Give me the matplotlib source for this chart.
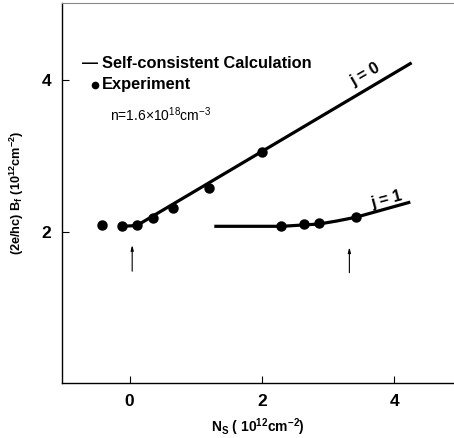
import matplotlib
matplotlib.use('Agg')
import matplotlib.pyplot as plt
import numpy as np

plt.rcParams.update({
    "font.family": 'Liberation Sans',
    "mathtext.fontset": 'custom',
    "mathtext.rm": 'Liberation Sans',
    "mathtext.bf": 'Liberation Sans:bold',
    "mathtext.default": 'regular',
    "axes.linewidth": 1.0,
    "xtick.direction": 'in',
    "ytick.direction": 'in',
})

# experimental points, j = 0 branch
exp0_ns = [-0.42, -0.12, 0.11, 0.36, 0.65, 1.20, 2.00]
exp0_bf = [2.09, 2.07, 2.09, 2.18, 2.31, 2.57, 3.05]
# experimental points, j = 1 branch
exp1_ns = [2.29, 2.64, 2.86, 3.42]
exp1_bf = [2.08, 2.10, 2.11, 2.19]

# self-consistent calculation
calc0_ns = [-0.12, 0.11, 4.26]
calc0_bf = [2.07, 2.08, 4.23]
calc1_ns = [1.28, 2.30, 2.86, 3.13, 3.42, 4.24]
calc1_bf = [2.07, 2.07, 2.10, 2.14, 2.19, 2.39]

# arrows marking the subband onsets
onset_ns = [0.04, 3.32]
onset_lo = [1.44, 1.42]
onset_hi = [1.86, 1.83]

fig = plt.figure(figsize=(4.54, 4.38), dpi=100)
ax = fig.add_axes([62 / 454, 55 / 438, 392 / 454, 380 / 438])

ax.plot(calc0_ns, calc0_bf, color='black', lw=2.3, solid_capstyle='butt')
ax.plot(calc1_ns, calc1_bf, color='black', lw=2.3, solid_capstyle='butt')
ax.plot(exp0_ns, exp0_bf, 'o', color='black', ms=6.5)
ax.plot(exp1_ns, exp1_bf, 'o', color='black', ms=6.5)

for x, lo, hi in zip(onset_ns, onset_lo, onset_hi):
    ax.annotate('', xy=(x, hi), xytext=(x, lo),
                arrowprops=dict(arrowstyle='-|>,head_length=0.3,head_width=0.08',
                                color='black', lw=0.8))

ax.text(3.56, 4.07, 'j = 0', rotation=30, fontsize=11.5, fontweight='bold',
        ha='center', va='center', rotation_mode='anchor')
ax.text(3.88, 2.42, 'j = 1', rotation=15, fontsize=11.5, fontweight='bold',
        ha='center', va='center', rotation_mode='anchor')

# legend drawn by hand
ax.text(-0.60, 4.22, '\u2014', fontsize=11.5, fontweight='bold', va='center', ha='center')
ax.text(-0.42, 4.22, 'Self-consistent Calculation', fontsize=11.8, fontweight='bold', va='center')
ax.plot([-0.52], [3.94], 'o', color='black', ms=4.5)
ax.text(-0.42, 3.94, 'Experiment', fontsize=11.8, fontweight='bold', va='center')
ax.text(-0.30, 3.55, r'n=1.6$\times$10$^{18}$cm$^{-3}$', fontsize=10, va='center')

ax.set_xlim(-1.02, 4.90)
ax.set_ylim(0, 5.02)
ax.set_xticks([0, 2, 4])
ax.set_yticks([2, 4])
ax.tick_params(length=5, width=0.8, labelsize=12.5, pad=8)
for lab in ax.get_xticklabels() + ax.get_yticklabels():
    lab.set_fontweight('bold')

ax.set_xlabel(r'N$_S$ ( 10$^{12}$cm$^{-2}$)', fontsize=10, fontweight='bold', labelpad=5)
ax.set_ylabel(r'(2e/hc) B$_f$ (10$^{12}$cm$^{-2}$)', fontsize=9.2, fontweight='bold', labelpad=11)

ax.spines['right'].set_visible(False)
ax.spines['top'].set_color('#888888')
ax.spines['top'].set_linewidth(0.8)

fig.savefig('out.png', dpi=100)
